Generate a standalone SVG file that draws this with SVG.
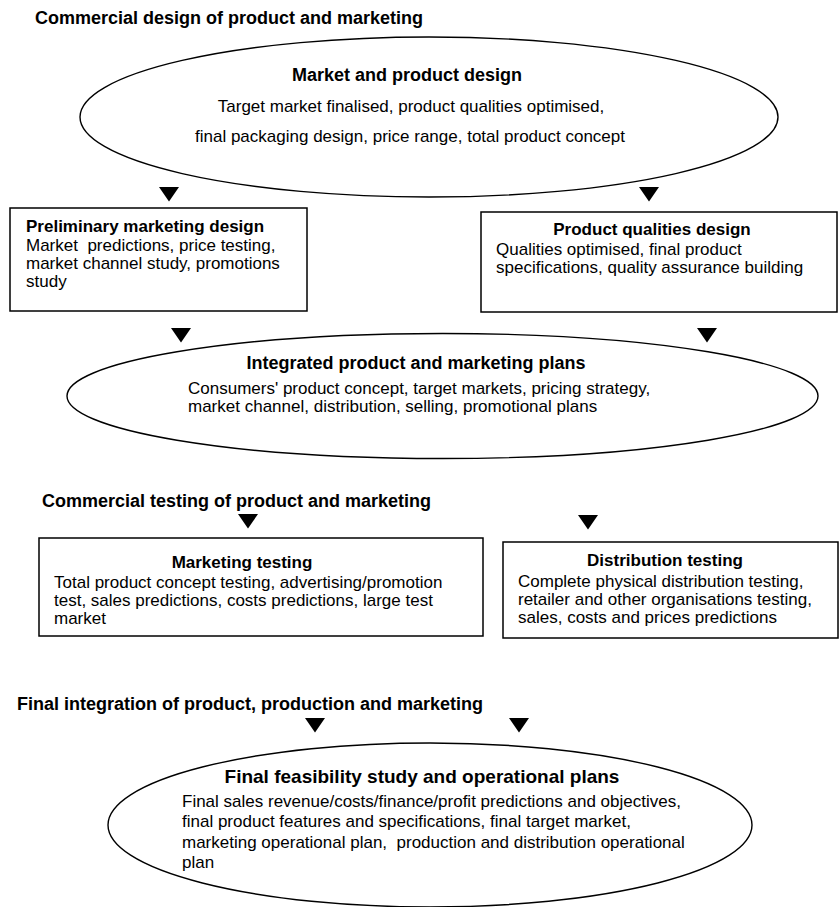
<svg xmlns="http://www.w3.org/2000/svg" xmlns:xlink="http://www.w3.org/1999/xlink" width="840" height="907" viewBox="0 0 840 907">
  <style>
    text { font-family: "Liberation Sans", Arial, Helvetica, sans-serif; fill: #000; white-space: pre; }
    .head { font-size: 18px; font-weight: bold; }
    .title { font-size: 17px; font-weight: bold; }
    .big { font-size: 18px; font-weight: bold; }
    .body { font-size: 17px; }
    .mid { text-anchor: middle; }
    .shape { fill: #fff; stroke: #000; stroke-width: 1.4; }
    .box { fill: #fff; stroke: #000; stroke-width: 1.5; }
  </style>
  <defs>
    <polygon id="tri" points="-10,0 10,0 0,14.5" fill="#000"/>
  </defs>
  <rect width="840" height="907" fill="#fff"/>

  <!-- section headings -->
  <text class="head" x="35" y="24">Commercial design of product and marketing</text>
  <text class="head" x="42" y="507">Commercial testing of product and marketing</text>
  <text class="head" x="17" y="710">Final integration of product, production and marketing</text>

  <g id="market-product-design">
    <ellipse class="shape" cx="429" cy="117" rx="349" ry="80"/>
    <text class="big mid" x="407" y="81">Market and product design</text>
    <text class="body mid" x="411" y="112">Target market finalised, product qualities optimised,</text>
    <text class="body mid" x="410" y="142">final packaging design, price range, total product concept</text>
  </g>

  <g id="preliminary-marketing-design">
    <rect class="box" x="10" y="208" width="297" height="103"/>
    <text class="title" x="26" y="232">Preliminary marketing design</text>
    <text class="body" x="26" y="251" xml:space="preserve">Market  predictions, price testing,</text>
    <text class="body" x="26" y="269">market channel study, promotions</text>
    <text class="body" x="26" y="287">study</text>
  </g>

  <g id="product-qualities-design">
    <rect class="box" x="481" y="212" width="356" height="100"/>
    <text class="title mid" x="652" y="235">Product qualities design</text>
    <text class="body" x="496" y="255">Qualities optimised, final product</text>
    <text class="body" x="496" y="273">specifications, quality assurance building</text>
  </g>

  <g id="integrated-plans">
    <ellipse class="shape" cx="442.5" cy="396" rx="375.5" ry="62.5"/>
    <text class="big mid" x="416" y="369">Integrated product and marketing plans</text>
    <text class="body" x="188" y="394">Consumers' product concept, target markets, pricing strategy,</text>
    <text class="body" x="188" y="412">market channel, distribution, selling, promotional plans</text>
  </g>

  <g id="marketing-testing">
    <rect class="box" x="39" y="538" width="444" height="98"/>
    <text class="title mid" x="242" y="568">Marketing testing</text>
    <text class="body" x="54" y="588">Total product concept testing, advertising/promotion</text>
    <text class="body" x="54" y="606">test, sales predictions, costs predictions, large test</text>
    <text class="body" x="54" y="624">market</text>
  </g>

  <g id="distribution-testing">
    <rect class="box" x="503" y="542" width="335" height="96"/>
    <text class="title mid" x="665" y="566">Distribution testing</text>
    <text class="body" x="518" y="587">Complete physical distribution testing,</text>
    <text class="body" x="518" y="605">retailer and other organisations testing,</text>
    <text class="body" x="518" y="623">sales, costs and prices predictions</text>
  </g>

  <g id="final-feasibility">
    <ellipse class="shape" cx="430" cy="825" rx="322" ry="82"/>
    <text class="mid" x="422" y="783" style="font-size:19px;font-weight:bold">Final feasibility study and operational plans</text>
    <text class="body" x="182" y="807">Final sales revenue/costs/finance/profit predictions and objectives,</text>
    <text class="body" x="182" y="827">final product features and specifications, final target market,</text>
    <text class="body" x="182" y="848" xml:space="preserve">marketing operational plan,  production and distribution operational</text>
    <text class="body" x="182" y="868">plan</text>
  </g>

  <!-- flow arrowheads -->
  <g id="connectors">
    <use xlink:href="#tri" x="169" y="187"/>
    <use xlink:href="#tri" x="649" y="187"/>
    <use xlink:href="#tri" x="181" y="328"/>
    <use xlink:href="#tri" x="707" y="328"/>
    <use xlink:href="#tri" x="248" y="514"/>
    <use xlink:href="#tri" x="588" y="515"/>
    <use xlink:href="#tri" x="315" y="718"/>
    <use xlink:href="#tri" x="519" y="718"/>
  </g>
</svg>
